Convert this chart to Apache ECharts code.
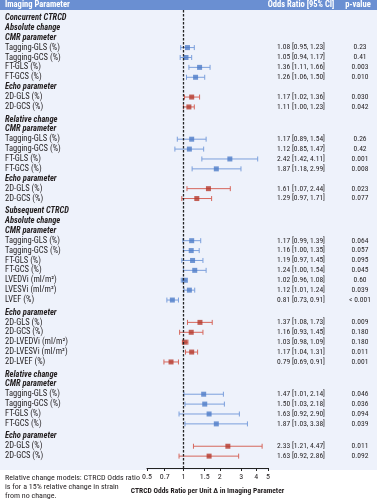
<!DOCTYPE html>
<html>
<head>
<meta charset="utf-8">
<script src="https://cdn.jsdelivr.net/npm/echarts@6/dist/echarts.min.js"></script>
<style>
  html, body { margin: 0; padding: 0; background: #fff; }
  #forest { width: 377px; height: 500px; }
</style>
</head>
<body>
<div id="forest"></div>
<script>
// rows, top to bottom ('h' = heading, 'cmr' / 'echo' = measured parameter)
const rowNames = [
  "Concurrent CTRCD", "Absolute change", "CMR parameter",
  "Tagging-GLS (%)", "Tagging-GCS (%)", "FT-GLS (%)", "FT-GCS (%)",
  "Echo parameter", "2D-GLS (%)", "2D-GCS (%)",
  "Relative change", "CMR parameter",
  "Tagging-GLS (%)", "Tagging-GCS (%)", "FT-GLS (%)", "FT-GCS (%)",
  "Echo parameter", "2D-GLS (%)", "2D-GCS (%)",
  "Subsequent CTRCD", "Absolute change", "CMR parameter",
  "Tagging-GLS (%)", "Tagging-GCS (%)", "FT-GLS (%)", "FT-GCS (%)",
  "LVEDVi (ml/m²)", "LVESVi (ml/m²)", "LVEF (%)",
  "Echo parameter", "2D-GLS (%)", "2D-GCS (%)", "2D-LVEDVi (ml/m²)", "2D-LVESVi (ml/m²)", "2D-LVEF (%)",
  "Relative change", "CMR parameter",
  "Tagging-GLS (%)", "Tagging-GCS (%)", "FT-GLS (%)", "FT-GCS (%)",
  "Echo parameter", "2D-GLS (%)", "2D-GCS (%)"
];
const rowType = [
  "h", "h", "h", "cmr", "cmr", "cmr", "cmr", "h", "echo", "echo",
  "h", "h", "cmr", "cmr", "cmr", "cmr", "h", "echo", "echo",
  "h", "h", "h", "cmr", "cmr", "cmr", "cmr", "cmr", "cmr", "cmr",
  "h", "echo", "echo", "echo", "echo", "echo",
  "h", "h", "cmr", "cmr", "cmr", "cmr",
  "h", "echo", "echo"
];
// rows that have a small extra space above them
const gapRows = [10, 19, 29, 35, 41];

const oddsRatio = [
  null, null, null, 1.08, 1.05, 1.36, 1.26, null, 1.17, 1.11,
  null, null, 1.17, 1.12, 2.42, 1.87, null, 1.61, 1.29,
  null, null, null, 1.17, 1.16, 1.19, 1.24, 1.02, 1.12, 0.81,
  null, 1.37, 1.16, 1.03, 1.17, 0.79,
  null, null, 1.47, 1.50, 1.63, 1.87,
  null, 2.33, 1.63
];
const ciLow = [
  null, null, null, 0.95, 0.94, 1.11, 1.06, null, 1.02, 1.00,
  null, null, 0.89, 0.85, 1.42, 1.18, null, 1.07, 0.97,
  null, null, null, 0.99, 1.00, 0.97, 1.00, 0.96, 1.01, 0.73,
  null, 1.08, 0.93, 0.98, 1.04, 0.69,
  null, null, 1.01, 1.03, 0.92, 1.03,
  null, 1.21, 0.92
];
const ciHigh = [
  null, null, null, 1.23, 1.17, 1.66, 1.50, null, 1.36, 1.23,
  null, null, 1.54, 1.47, 4.11, 2.99, null, 2.44, 1.71,
  null, null, null, 1.39, 1.35, 1.45, 1.54, 1.08, 1.24, 0.91,
  null, 1.73, 1.45, 1.09, 1.31, 0.91,
  null, null, 2.14, 2.18, 2.90, 3.38,
  null, 4.47, 2.86
];
const pValues = [
  "", "", "", "0.23", "0.41", "0.003", "0.010", "", "0.030", "0.042",
  "", "", "0.26", "0.42", "0.001", "0.008", "", "0.023", "0.077",
  "", "", "", "0.064", "0.057", "0.095", "0.045", "0.60", "0.039", "< 0.001",
  "", "0.009", "0.180", "0.180", "0.011", "0.001",
  "", "", "0.046", "0.036", "0.094", "0.039",
  "", "0.011", "0.092"
];
const xTicks = [0.5, 0.7, 1, 1.5, 2, 3, 4, 5];

// Roboto's condensed face, asked for through the weight slot of the font string
const FONT = "Roboto, sans-serif";
const NORMAL = "400 condensed";
const BOLD = "700 condensed";
const TEXT = "#231f20";
const CMR_DOT = "#4d7cc8", CMR_LINE = "#7b9fdc";
const ECHO_DOT = "#b5382c", ECHO_LINE = "#d6675c";

// vertical position of each row (row units, gaps add a little)
let gaps = 0;
const rowPos = rowNames.map((n, i) => {
  if (gapRows.indexOf(i) >= 0) gaps++;
  return i + gaps * 0.26;
});
const key = (v) => Math.round(v * 100);
const posIndex = {};
rowPos.forEach((p, i) => { posIndex[key(p)] = i; });

const lg = (v) => Math.log10(v);

const pointData = { cmr: [], echo: [] };
const ciData = { cmr: [], echo: [] };
rowNames.forEach((n, i) => {
  const t = rowType[i];
  if (t === "h") return;
  pointData[t].push([lg(oddsRatio[i]), rowPos[i]]);
  ciData[t].push([lg(ciLow[i]), lg(ciHigh[i]), rowPos[i]]);
});

const renderCI = (color) => (params, api) => {
  const a = api.coord([api.value(0), api.value(2)]);
  const b = api.coord([api.value(1), api.value(2)]);
  const style = { stroke: color, lineWidth: 1 };
  return {
    type: "group",
    children: [
      { type: "line", shape: { x1: a[0], y1: a[1], x2: b[0], y2: b[1] }, style: style },
      { type: "line", shape: { x1: a[0], y1: a[1] - 2.5, x2: a[0], y2: a[1] + 2.5 }, style: style },
      { type: "line", shape: { x1: b[0], y1: b[1] - 2.5, x2: b[0], y2: b[1] + 2.5 }, style: style },
    ],
  };
};

const yBase = {
  type: "value",
  inverse: true,
  min: -0.8,
  max: 45.5,
  axisLine: { show: false },
  axisTick: { show: false },
  splitLine: { show: false },
};

const chart = echarts.init(document.getElementById("forest"));
const option = {
  animation: false,
  textStyle: { fontFamily: FONT, fontWeight: NORMAL },
  graphic: [
    { type: "rect", z: -10, shape: { x: 0, y: 10, width: 377, height: 460 }, style: { fill: "#eef2fb" } },
    { type: "rect", z: -10, shape: { x: 0, y: 0, width: 377, height: 10 }, style: { fill: "#6a8fd2" } },
    { type: "text", x: 5, y: 5, style: { text: "Imaging Parameter", fill: "#fff", font: BOLD + " 8.5px " + FONT, verticalAlign: "middle" } },
    { type: "text", x: 301, y: 5, style: { text: "Odds Ratio [95% CI]", fill: "#fff", font: BOLD + " 8.5px " + FONT, align: "center", verticalAlign: "middle" } },
    { type: "text", x: 358, y: 5, style: { text: "p-value", fill: "#fff", font: BOLD + " 8.5px " + FONT, align: "center", verticalAlign: "middle" } },
    {
      type: "text", x: 5, y: 473,
      style: {
        text: "Relative change models: CTRCD Odds ratio\nis for a 15% relative change in strain\nfrom no change.",
        fill: TEXT, font: NORMAL + " 8px " + FONT, lineHeight: 9.2,
      },
    },
  ],
  grid: { left: 147, right: 109, top: 10, bottom: 27 },
  xAxis: {
    type: "value",
    min: lg(0.5),
    max: lg(5),
    splitLine: { show: false },
    axisLine: { onZero: false, lineStyle: { color: "#222", width: 1 } },
    axisTick: { customValues: xTicks.map(lg), length: 3, lineStyle: { color: "#222" } },
    axisLabel: {
      customValues: xTicks.map(lg),
      formatter: (v) => {
        let best = xTicks[0];
        xTicks.forEach((t) => { if (Math.abs(lg(t) - v) < Math.abs(lg(best) - v)) best = t; });
        return String(best);
      },
      color: TEXT, fontSize: 8, fontWeight: NORMAL, margin: 5,
    },
    name: "CTRCD Odds Ratio per Unit Δ in Imaging Parameter",
    nameLocation: "middle",
    nameGap: 19,
    nameTextStyle: { color: TEXT, fontSize: 7.5, fontWeight: BOLD },
  },
  yAxis: [
    Object.assign({}, yBase, {
      position: "left",
      axisLabel: {
        customValues: rowPos,
        align: "left",
        margin: 142,
        formatter: (v) => {
          const i = posIndex[key(v)];
          return (rowType[i] === "h" ? "{h|" : "{n|") + rowNames[i] + "}";
        },
        rich: {
          h: { fontWeight: BOLD, fontStyle: "italic", fontSize: 8.5, color: TEXT, fontFamily: FONT },
          n: { fontWeight: NORMAL, fontSize: 8.5, color: TEXT, fontFamily: FONT },
        },
      },
    }),
    Object.assign({}, yBase, {
      position: "right",
      axisLabel: {
        customValues: rowPos.filter((p, i) => rowType[i] !== "h"),
        align: "right",
        margin: 57,
        fontSize: 7.5,
        fontWeight: NORMAL,
        color: TEXT,
        formatter: (v) => {
          const i = posIndex[key(v)];
          return oddsRatio[i].toFixed(2) + " [" + ciLow[i].toFixed(2) + ", " + ciHigh[i].toFixed(2) + "]";
        },
      },
    }),
    Object.assign({}, yBase, {
      position: "right",
      axisLabel: {
        customValues: rowPos.filter((p, i) => rowType[i] !== "h"),
        align: "center",
        margin: 92,
        fontSize: 7.5,
        fontWeight: NORMAL,
        color: TEXT,
        formatter: (v) => pValues[posIndex[key(v)]],
      },
    }),
  ],
  series: [
    {
      type: "custom", name: "cmr-ci", renderItem: renderCI(CMR_LINE),
      encode: { x: [0, 1], y: 2 }, data: ciData.cmr, z: 3, silent: true,
      markLine: {
        silent: true, symbol: "none", label: { show: false },
        lineStyle: { color: "#222", type: [2.5, 1.5], width: 1.3 },
        data: [{ xAxis: 0 }],
      },
    },
    {
      type: "custom", name: "echo-ci", renderItem: renderCI(ECHO_LINE),
      encode: { x: [0, 1], y: 2 }, data: ciData.echo, z: 3, silent: true,
    },
    {
      type: "scatter", name: "cmr", symbol: "rect", symbolSize: 5,
      itemStyle: { color: CMR_DOT }, data: pointData.cmr, z: 4,
    },
    {
      type: "scatter", name: "echo", symbol: "rect", symbolSize: 5,
      itemStyle: { color: ECHO_DOT }, data: pointData.echo, z: 4,
    },
  ],
};
chart.setOption(option);
window.onresize = function () {
  chart.resize();
};
</script>
</body>
</html>
